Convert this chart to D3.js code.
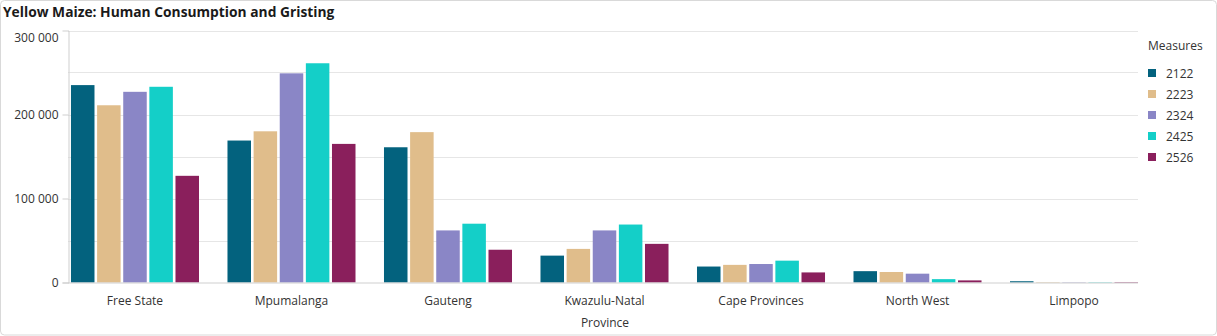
<!DOCTYPE html>
<html>
<head>
<meta charset="utf-8">
<script src="https://cdn.jsdelivr.net/npm/d3@7"></script>
<style>
  html, body { margin: 0; padding: 0; background: #fff; }
  svg { display: block; }
  text { font-family: "Open Sans", "Noto Sans", sans-serif; }
</style>
</head>
<body>
<svg id="chart" width="1217" height="336"></svg>
<script>
const provinces = ["Free State", "Mpumalanga", "Gauteng", "Kwazulu-Natal", "Cape Provinces", "North West", "Limpopo"];
const measures = ["2122", "2223", "2324", "2425", "2526"];
const v2122 = [235000, 169000, 161000, 32000, 19000, 13500, 1500];
const v2223 = [211000, 180000, 179000, 40000, 21000, 12500, 500];
const v2324 = [227000, 249000, 62000, 62000, 22000, 10500, 400];
const v2425 = [233000, 261000, 70000, 69000, 26000, 4000, 400];
const v2526 = [127000, 165000, 39000, 46000, 12000, 2500, 600];
const yTicks = [0, 100000, 200000, 300000];
const gridTicks = [0, 50000, 100000, 150000, 200000, 250000, 300000];
const colors = ["#03627e", "#e0bd8b", "#8a86c6", "#14cfc8", "#8a1f5c"];

const seriesValues = [v2122, v2223, v2324, v2425, v2526];
const data = provinces.map((p, i) => ({
  province: p,
  values: measures.map((m, j) => ({ measure: m, value: seriesValues[j][i] }))
}));

const svg = d3.select("#chart");
const W = 1217, H = 336;

// card border
svg.append("rect")
  .attr("x", 0.5).attr("y", 0.5).attr("width", W - 1).attr("height", H - 1.5)
  .attr("rx", 4).attr("fill", "#fff").attr("stroke", "#d9d9d9");

// title
svg.append("text")
  .attr("x", 3).attr("y", 17)
  .attr("font-size", 13.8).attr("font-weight", 700).attr("fill", "#1a1a1a")
  .text("Yellow Maize: Human Consumption and Gristing");

const mLeft = 68, mRight = 1141, mTop = 30.5, mBottom = 282.5;

const x0 = d3.scaleBand().domain(provinces).range([mLeft, mRight])
  .paddingInner(0.182).paddingOuter(0.019);
const x1 = d3.scaleBand().domain(measures).range([0, x0.bandwidth()]).paddingInner(0.1);
const y = d3.scaleLinear().domain([0, 300000]).range([mBottom, mTop]);
const color = d3.scaleOrdinal().domain(measures).range(colors);

// gridlines
svg.append("g").selectAll("line").data(gridTicks.filter(d => d > 0)).join("line")
  .attr("x1", mLeft).attr("x2", 1138)
  .attr("y1", d => Math.round(y(d)) + 0.5).attr("y2", d => Math.round(y(d)) + 0.5)
  .attr("stroke", "#e6e6e6").attr("stroke-width", 1);

// y axis
const yAxis = d3.axisLeft(y).tickValues(yTicks).tickSize(6).tickPadding(4)
  .tickFormat(d => d3.format(",")(d).replace(/,/g, " "));
const gy = svg.append("g").attr("transform", `translate(${mLeft + 0.5},0)`).call(yAxis);
gy.select(".domain").attr("stroke", "#cfcfcf");
gy.selectAll(".tick line").attr("stroke", "#cfcfcf");
gy.selectAll(".tick text").attr("font-size", 12).attr("fill", "#333")
  .style("font-family", '"Open Sans", sans-serif')
  .attr("dy", d => d === 300000 ? "0.95em" : "0.32em");
gy.selectAll(".tick").filter(d => d === 300000).select("line").remove();

// bars
const groups = svg.append("g").selectAll("g").data(data).join("g")
  .attr("transform", d => `translate(${x0(d.province)},0)`);
groups.selectAll("rect").data(d => d.values).join("rect")
  .attr("x", d => x1(d.measure))
  .attr("width", x1.bandwidth())
  .attr("y", d => y(d.value))
  .attr("height", d => mBottom - y(d.value))
  .attr("fill", d => color(d.measure));

// x axis
const xAxis = d3.axisBottom(x0).tickSize(0).tickPadding(14);
const gx = svg.append("g").attr("transform", `translate(0,${mBottom})`).call(xAxis);
gx.select(".domain").attr("d", `M${mLeft},0.5H1138`).attr("stroke", "#cfcfcf");
gx.selectAll(".tick text").attr("font-size", 12).attr("fill", "#333")
  .style("font-family", '"Open Sans", sans-serif');

// x axis title
svg.append("text")
  .attr("x", (mLeft + 1138) / 2 + 2).attr("y", 327)
  .attr("text-anchor", "middle").attr("font-size", 12).attr("fill", "#333")
  .text("Province");

// legend
const lg = svg.append("g");
lg.append("text").attr("x", 1148).attr("y", 50)
  .attr("font-size", 12).attr("fill", "#333").text("Measures");
const items = lg.selectAll("g.item").data(measures).join("g")
  .attr("class", "item")
  .attr("transform", (d, i) => `translate(1148,${68 + i * 21})`);
items.append("rect").attr("width", 8).attr("height", 8).attr("y", 1)
  .attr("fill", d => color(d));
items.append("text").attr("x", 18).attr("y", 9.5)
  .attr("font-size", 12).attr("fill", "#333").text(d => d);
</script>
</body>
</html>
